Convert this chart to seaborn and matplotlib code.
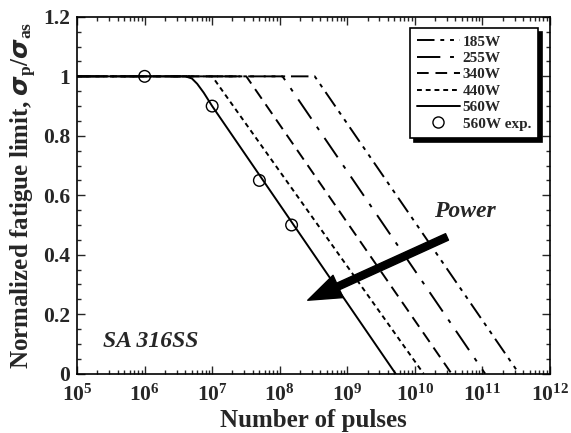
import matplotlib
matplotlib.use("Agg")
import matplotlib.pyplot as plt
import matplotlib.ticker as mticker
from matplotlib.lines import Line2D
import seaborn as sns
import pandas as pd
import numpy as np

# series: (pulses, normalized fatigue limit)
powers = ["185W", "255W", "340W", "440W", "560W"]
pulses_185 = [1e5, 3.3e8, 3.5e11]
limit_185 = [1.0, 1.0, 0.0]
pulses_255 = [1e5, 1.1e8, 1.1e11]
limit_255 = [1.0, 1.0, 0.0]
pulses_340 = [1e5, 3.2e7, 3.5e10]
limit_340 = [1.0, 1.0, 0.0]
pulses_440 = [1e5, 1.0e7, 1.35e10]
limit_440 = [1.0, 1.0, 0.0]
pulses_560 = [1e5, 4e6, 5e6, 6e6, 7.5e6, 1e7, 5.2e9]
limit_560 = [1.0, 1.0, 0.993, 0.975, 0.945, 0.9, 0.0]

# experimental points (560W)
exp_pulses = [1e6, 1e7, 5e7, 1.5e8]
exp_limit = [1.0, 0.9, 0.65, 0.5]

xticks = [1e5, 1e6, 1e7, 1e8, 1e9, 1e10, 1e11, 1e12]
yticks = [0, 0.2, 0.4, 0.6, 0.8, 1.0, 1.2]

sns.set_style("ticks")
plt.rcParams['font.family'] = ['Liberation Serif', 'DejaVu Serif']
plt.rcParams['font.weight'] = 'bold'
plt.rcParams['mathtext.fontset'] = 'custom'
plt.rcParams['mathtext.rm'] = 'Liberation Serif'
plt.rcParams['mathtext.bf'] = 'Liberation Serif:bold'
plt.rcParams['mathtext.it'] = 'Liberation Serif:italic:bold'

fig = plt.figure(figsize=(5.71, 4.33), dpi=100)
ax = fig.add_axes([0.135, 0.137, 0.828, 0.824])

series = {
    "185W": (pulses_185, limit_185, (0, (9, 3, 2, 3, 2, 3))),
    "255W": (pulses_255, limit_255, (0, (12, 5, 2, 5))),
    "340W": (pulses_340, limit_340, (0, (6, 3.5))),
    "440W": (pulses_440, limit_440, (0, (2.5, 2))),
    "560W": (pulses_560, limit_560, "-"),
}

handles = []
for name in powers:
    xs, ys, ls = series[name]
    df = pd.DataFrame({"pulses": xs, "limit": ys})
    sns.lineplot(data=df, x="pulses", y="limit", color="black", lw=1.4,
                 linestyle=ls, ax=ax, sort=False, estimator=None)
    handles.append(Line2D([], [], color="black", lw=1.4, linestyle=ls, label=name))

sns.scatterplot(x=exp_pulses, y=exp_limit, marker="o", s=70, facecolor="none",
                edgecolor="black", linewidth=1.0, ax=ax, zorder=5)
handles.append(Line2D([], [], color="black", marker="o", ms=8, mfc="none",
                      mew=1.0, linestyle="none", label="560W exp."))

ax.set_xscale("log")
ax.set_xlim(1e5, 1e12)
ax.set_ylim(0, 1.2)
ax.set_xticks(xticks)
ax.set_xticklabels([r"$\mathbf{10^{%d}}$" % int(np.log10(v)) for v in xticks])
ax.xaxis.set_minor_locator(mticker.LogLocator(base=10, subs=np.arange(2, 10), numticks=20))
ax.xaxis.set_minor_formatter(mticker.NullFormatter())
ax.set_yticks(yticks)
ax.set_yticklabels(["%g" % v for v in yticks])
ax.yaxis.set_minor_locator(mticker.MultipleLocator(0.05))

ax.tick_params(which="both", direction="in", top=True, right=True, width=1.0)
ax.tick_params(which="major", length=6, labelsize=15.5)
ax.tick_params(axis="x", which="major", pad=8)
ax.tick_params(axis="y", which="major", pad=5)
ax.tick_params(which="minor", length=3)
for sp in ax.spines.values():
    sp.set_linewidth(1.2)
    sp.set_color("black")

ax.set_xlabel("Number of pulses", fontsize=18, fontweight="bold", labelpad=2)
ax.set_ylabel(r"Normalized fatigue limit, $\boldsymbol{\sigma}_\mathbf{p}/\boldsymbol{\sigma}_\mathbf{as}$",
              fontsize=18, fontweight="bold", labelpad=3)

leg = ax.legend(handles=handles, loc="upper right", bbox_to_anchor=(0.975, 0.969),
                fontsize=11, frameon=True, fancybox=False,
                shadow={"color": "black", "alpha": 1, "ox": 3, "oy": -3},
                handlelength=2.8, handletextpad=0.2, labelspacing=0.18,
                borderpad=0.45, borderaxespad=0)
leg.get_frame().set_edgecolor("black")
leg.get_frame().set_linewidth(1.2)
leg.get_frame().set_alpha(1)
for t in leg.get_texts():
    t.set_fontweight("bold")

ax.annotate("", xy=(2.6e8, 0.247), xytext=(3e10, 0.46),
            arrowprops=dict(arrowstyle="simple,head_length=1.5,head_width=1.1,tail_width=0.32",
                            color="black", mutation_scale=16, shrinkA=0, shrinkB=0))
ax.text(0.82, 0.455, "Power", transform=ax.transAxes, fontsize=17,
        fontstyle="italic", fontweight="bold", ha="center", va="center")
ax.text(0.055, 0.09, "SA 316SS", transform=ax.transAxes, fontsize=17,
        fontstyle="italic", fontweight="bold", ha="left", va="center")

fig.savefig("out.png", dpi=100)
